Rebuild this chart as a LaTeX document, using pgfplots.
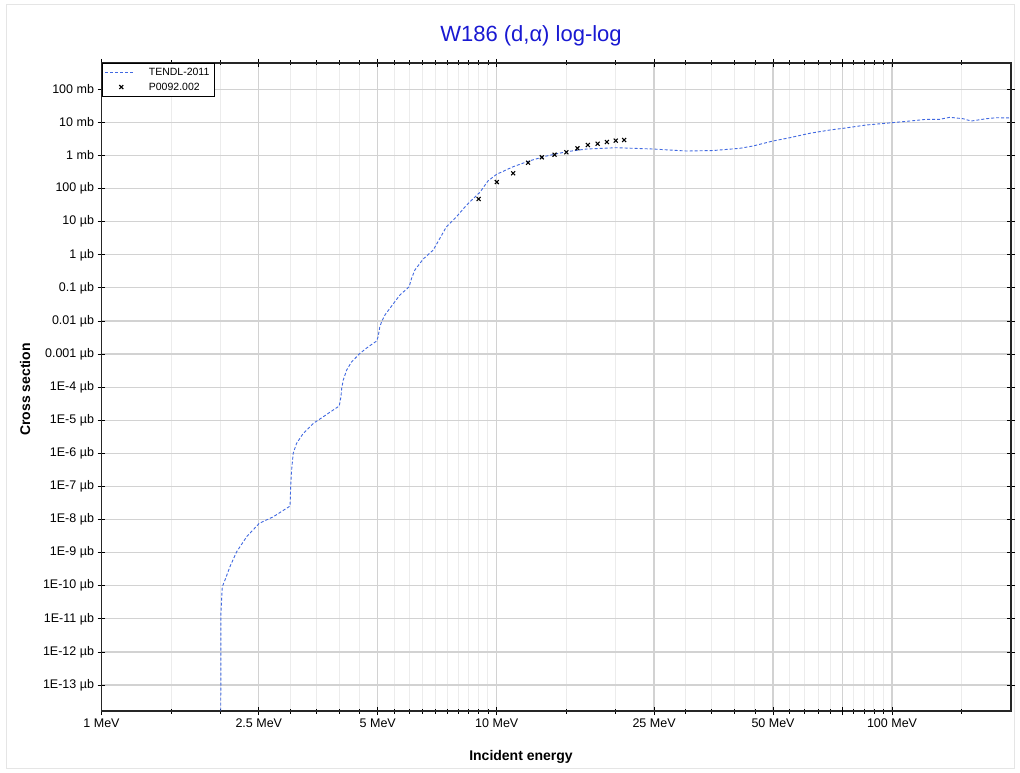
\documentclass[border=0pt]{standalone}
\usepackage{pgfplots}
\pgfplotsset{compat=1.18}
\usepackage{fontspec}
\setmainfont{Liberation Sans}

\definecolor{tendl}{RGB}{65,105,225}
\definecolor{titleblue}{RGB}{25,25,210}
\definecolor{majgrid}{RGB}{210,210,210}
\definecolor{mingrid}{RGB}{236,236,236}

\pgfplotsset{
  lineleg/.style={legend image code/.code={\draw[##1] (3bp,0bp) -- (31bp,0bp); \path (44bp,0bp);}},
  markleg/.style={legend image code/.code={\draw[mark repeat=2,mark phase=2,##1] plot coordinates {(3bp,0bp) (19bp,0bp) (35bp,0bp)}; \path (44bp,0bp);}},
}

\begin{document}
\begin{tikzpicture}[x=1bp,y=1bp]
\useasboundingbox (0,0) rectangle (1020,773);
\fill[white] (0,0) rectangle (1020,773);
\draw[black!10, line width=1bp] (6,4) rectangle (1014,768);
\begin{axis}[
    at={(101.5bp,62bp)}, anchor=south west,
    scale only axis, width=909.5bp, height=648bp,
    xmode=log, ymode=log,
    xmin=1, xmax=200,
    ymin=1.64e-14, ymax=6.24e5,
    xtick={1,2.5,5,10,25,50,100},
    xticklabels={1 MeV,2.5 MeV,5 MeV,10 MeV,25 MeV,50 MeV,100 MeV},
    minor xtick={1.5,2,3,3.5,4,4.5,5.5,6,6.5,7,7.5,8,8.5,9,9.5,15,20,30,35,40,45,55,60,65,70,80,85,90,95,150},
    extra x ticks={75}, extra x tick labels={},
    ytick={1e-13,1e-12,1e-11,1e-10,1e-9,1e-8,1e-7,1e-6,1e-5,1e-4,1e-3,1e-2,1e-1,1,10,100,1e3,1e4,1e5},
    yticklabels={1E-13 µb,1E-12 µb,1E-11 µb,1E-10 µb,1E-9 µb,1E-8 µb,1E-7 µb,1E-6 µb,1E-5 µb,1E-4 µb,0.001 µb,0.01 µb,0.1 µb,1 µb,10 µb,100 µb,1 mb,10 mb,100 mb},
    yminorticks=false,
    xmajorgrids=true, xminorgrids=true, ymajorgrids=true,
    major grid style={majgrid, line width=1.2bp},
    minor grid style={mingrid, line width=1bp},
    tick align=center,
    major tick length=8bp, minor tick length=5bp,
    tick style={black, line width=0.8bp},
    axis line style={black!85, line width=1.2bp},
    tick label style={font=\fontsize{12.5bp}{14bp}\selectfont},
    legend style={at={(0,1)}, anchor=north west, draw=black, line width=0.8bp,
        font=\fontsize{10.5bp}{12bp}\selectfont, inner sep=3bp, row sep=1.5bp},
    legend cell align=left,
]

\addplot[tendl, dash pattern=on 3bp off 2bp, line width=0.9bp, lineleg]
coordinates {
(1.0,1e-20) (2.0,1e-20) (2.005,1.49e-11) (2.021,9.3e-11) (2.053,1.48e-10)
(2.113,3.74e-10) (2.197,1.06e-9) (2.329,3.02e-9) (2.506,7.66e-9) (2.72,1.21e-8)
(2.98,2.43e-8) (3.0,2.6e-8) (3.01,1.0e-7) (3.027,3.13e-7) (3.055,1.0e-6)
(3.115,2.0e-6) (3.24,4.02e-6) (3.434,8.05e-6) (3.64,1.28e-5) (3.995,2.69e-5)
(4.035,5.13e-5) (4.052,9.2e-5) (4.089,1.64e-4) (4.171,3.29e-4) (4.295,5.86e-4)
(4.507,1.05e-3) (4.73,1.66e-3) (4.966,2.47e-3) (5.01,3.34e-3) (5.06,6.7e-3)
(5.113,9.5e-3) (5.212,0.0151) (5.366,0.0241) (5.688,0.0608) (6.003,0.108)
(6.088,0.194) (6.207,0.346) (6.515,0.744) (6.907,1.39) (7.18,3.14)
(7.46,7.05) (7.91,14.1) (8.39,31.9) (9.07,78) (9.495,169)
(9.99,270) (11.0,458) (12.13,695) (13.36,964) (15.01,1300)
(16.87,1570) (20.09,1718) (24.86,1570) (30.2,1365) (35.3,1413)
(41.2,1648) (44.5,1935) (50.0,2740) (55.1,3445) (61.9,4680)
(69.6,5890) (75.2,6620) (86.1,8340) (100,9790) (113,11250)
(122.2,12400) (132,12400) (140,14250) (151.2,12930) (158.6,11010)
(173.3,12930) (183.7,13860) (200,13590)
};
\addlegendentry{TENDL-2011}

\addplot[only marks, mark=x, black, mark size=2.8bp, line width=1.1bp, markleg]
coordinates {
(9,48.4) (10,158) (11,289) (12,605) (13,881) (14,1057) (15,1248)
(16,1648) (17,2074) (18,2270) (19,2553) (20,2800) (21,2940)
};
\addlegendentry{P0092.002}

\end{axis}
\node[text=titleblue, font=\fontsize{22bp}{24bp}\selectfont] at (531,737) {W186 (d,α) log-log};
\node[font=\bfseries\fontsize{14bp}{16bp}\selectfont] at (521,16) {Incident energy};
\node[rotate=90, font=\bfseries\fontsize{14bp}{16bp}\selectfont] at (25,383.5) {Cross section};
\end{tikzpicture}
\end{document}
